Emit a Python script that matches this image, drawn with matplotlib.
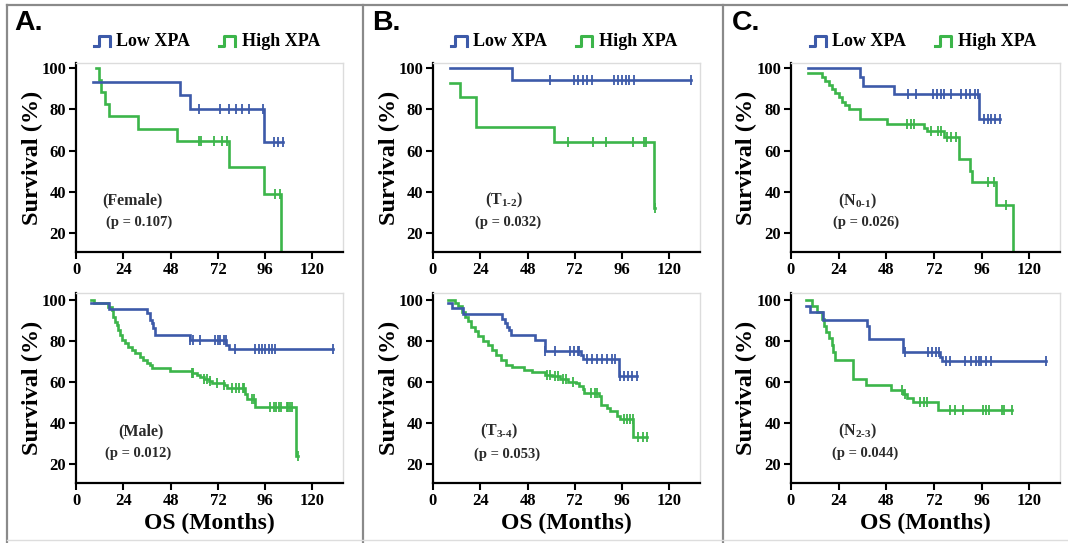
import numpy as np
import matplotlib.pyplot as plt
from matplotlib.lines import Line2D
from matplotlib.legend_handler import HandlerBase

# ---- data: event times (months), survival after each step (%), censor times ----
# A. Female
female_low_t = [8.5, 53.0, 58.0, 95.6]
female_low_s = [93.3, 86.7, 80.0, 64.0]
female_low_c = [62.6, 73.0, 77.6, 81.0, 84.0, 88.0, 95.0, 100.3, 102.5, 105.0]
female_high_t = [10.0, 11.8, 12.7, 14.7, 16.8, 31.2, 51.2, 77.6, 95.2, 104.2]
female_high_s = [100.0, 94.1, 88.2, 82.4, 76.5, 70.6, 64.7, 51.8, 38.8, 0.0]
female_high_c = [62.6, 63.2, 70.0, 74.3, 76.6, 101.0, 103.5]

# A. Male
male_low_t = [7.5, 16.5, 35.9, 37.6, 38.5, 39.3, 40.2, 58.0, 76.3, 77.4]
male_low_s = [98.4, 95.5, 93.5, 90.2, 88.6, 86.2, 82.9, 80.5, 78.0, 76.0]
male_low_c = [58.0, 59.6, 63.0, 70.7, 71.9, 73.3, 75.0, 76.2, 80.8, 91.0, 92.7, 94.4,
              96.1, 97.8, 99.5, 101.2, 130.5]
male_high_t = [7.5, 9.0, 16.4, 18.1, 19.0, 19.8, 20.7, 21.5, 22.4, 23.2, 24.9, 26.6, 28.3,
               30.0, 32.5, 34.2, 35.9, 37.6, 38.5, 47.8, 58.8, 61.3, 63.0, 64.7, 67.3,
               69.0, 74.9, 76.6, 85.6, 86.8, 91.0, 111.8]
male_high_s = [100.0, 98.7, 96.7, 95.1, 91.9, 89.4, 87.8, 85.4, 82.9, 80.5, 78.9, 77.2, 75.6,
               74.0, 72.4, 70.7, 69.1, 68.3, 66.7, 65.5, 64.5, 63.4, 62.3, 61.3, 60.6,
               59.3, 58.3, 57.0, 54.0, 51.5, 48.0, 24.0]
male_high_c = [58.8, 59.6, 64.8, 66.5, 68.1, 71.3, 74.9, 79.4, 81.1, 82.8, 84.5, 85.4, 89.3,
               90.5, 98.6, 100.3, 101.6, 102.8, 104.0, 107.0, 107.8, 108.6, 109.5, 112.6]

# B. T1-2
t12_low_t = [8.8, 40.2]
t12_low_s = [100.0, 94.0]
t12_low_c = [59.2, 71.6, 73.7, 75.9, 78.0, 80.6, 92.0, 93.7, 95.9, 97.9, 99.6, 102.2, 131.0]
t12_high_t = [8.8, 13.9, 21.6, 61.4, 112.4]
t12_high_s = [92.9, 85.7, 71.4, 64.3, 32.1]
t12_high_c = [68.6, 81.0, 87.7, 101.3, 107.3, 108.1, 112.8]

# B. T3-4
t34_low_t = [7.8, 9.5, 15.3, 35.2, 36.5, 37.7, 38.5, 39.4, 51.8, 56.8, 75.0, 75.9, 94.2]
t34_low_s = [98.4, 96.0, 93.2, 90.6, 88.6, 86.7, 85.1, 83.0, 80.5, 75.2, 73.2, 71.3, 63.0]
t34_low_c = [56.8, 61.8, 69.3, 71.8, 73.4, 74.3, 78.4, 80.9, 83.4, 85.9, 88.4, 90.9, 92.6,
             95.0, 97.0, 99.2, 100.8, 103.5]
t34_high_t = [7.5, 11.0, 12.8, 14.5, 16.1, 17.8, 19.4, 21.1, 22.8, 25.3, 27.8, 30.2, 31.9,
              34.4, 36.9, 40.2, 46.0, 50.2, 56.8, 60.2, 64.3, 68.5, 72.6, 74.3, 76.0,
              76.8, 84.3, 85.1, 88.4, 90.0, 93.4, 95.0, 101.7]
t34_high_s = [100.0, 98.4, 96.8, 94.3, 91.9, 89.5, 87.0, 84.6, 82.2, 80.0, 78.0, 75.7, 73.2,
              70.8, 68.4, 67.2, 65.9, 64.6, 63.5, 62.7, 61.4, 60.2, 59.4, 58.1, 56.5,
              54.6, 53.0, 48.9, 47.3, 45.6, 43.2, 41.9, 33.3]
t34_high_c = [57.7, 59.3, 61.8, 63.5, 66.0, 67.6, 71.0, 80.1, 82.1, 83.4, 96.7, 98.4, 100.0,
              101.4, 104.2, 106.7, 108.4]

# C. N0-1
n01_low_t = [8.5, 34.7, 36.4, 51.9, 94.9]
n01_low_s = [100.0, 95.8, 91.4, 87.3, 75.2]
n01_low_c = [58.7, 62.9, 71.3, 73.5, 75.5, 76.9, 80.6, 85.6, 88.1, 90.3, 92.7, 94.0, 97.4,
             99.1, 100.8, 102.8, 105.0]
n01_high_t = [8.5, 15.5, 17.2, 18.9, 20.6, 22.3, 24.0, 25.7, 27.3, 29.0, 35.0, 48.4, 67.0,
              68.7, 77.1, 84.8, 90.3, 91.0, 103.3, 111.7]
n01_high_s = [97.4, 95.8, 93.9, 91.8, 89.7, 87.7, 85.8, 83.7, 82.1, 80.0, 75.1, 72.8, 70.7,
              69.6, 66.5, 55.7, 50.0, 44.8, 33.6, 0.0]
n01_high_c = [58.6, 60.3, 62.0, 70.4, 73.8, 75.4, 78.8, 80.5, 83.0, 99.1, 102.1, 108.4]

# C. N2-3
n23_low_t = [7.7, 9.4, 16.2, 38.1, 39.4, 56.2, 75.2, 76.2]
n23_low_s = [97.1, 94.2, 90.4, 87.4, 80.9, 74.5, 72.4, 70.1]
n23_low_c = [57.3, 69.0, 71.2, 73.2, 74.5, 77.9, 79.9, 87.4, 90.8, 93.3, 94.6, 95.8, 98.3,
             100.8, 128.5]
n23_high_t = [7.7, 10.5, 13.0, 15.5, 16.7, 17.7, 18.9, 20.6, 21.4, 22.2, 31.3, 38.0, 50.5,
              56.5, 58.2, 61.5, 74.0]
n23_high_s = [100.0, 97.1, 93.9, 90.6, 87.4, 84.2, 81.2, 78.0, 74.7, 70.7, 61.5, 58.3, 55.9,
              54.3, 52.3, 50.2, 46.5]
n23_high_c = [55.7, 57.3, 64.8, 66.8, 68.5, 79.9, 82.4, 86.6, 96.6, 98.3, 99.9, 106.3,
              107.5, 111.3]

subgroup_labels = ["(Female)", "(Male)", r"(T$_{1\text{-}2}$)", r"(T$_{3\text{-}4}$)",
                   r"(N$_{0\text{-}1}$)", r"(N$_{2\text{-}3}$)"]
p_labels = ["(p = 0.107)", "(p = 0.012)", "(p = 0.032)", "(p = 0.053)",
            "(p = 0.026)", "(p = 0.044)"]
panel_letters = ["A.", "B.", "C."]
group_names = ["Low XPA", "High XPA"]
x_ticks = [0, 24, 48, 72, 96, 120]
y_ticks = [20, 40, 60, 80, 100]

BLUE = "#3d5aa9"
GREEN = "#3cb54a"

plt.rcParams['font.family'] = ['Liberation Serif', 'DejaVu Serif']
plt.rcParams['font.weight'] = 'bold'
plt.rcParams['mathtext.fontset'] = 'custom'
plt.rcParams['mathtext.rm'] = 'Liberation Serif:bold'
plt.rcParams['mathtext.it'] = 'Liberation Serif:bold:italic'
plt.rcParams['mathtext.bf'] = 'Liberation Serif:bold'


class StepHandler(HandlerBase):
  def create_artists(self, legend, orig_handle, xdescent, ydescent, width, height, fontsize, trans):
    xs = np.array([0.0, 0.3, 0.3, 1.0, 1.0]) * width - xdescent
    ys = np.array([0.1, 0.1, 0.8, 0.8, 0.1]) * height - ydescent
    return [Line2D(xs, ys, color=orig_handle.get_color(), lw=2.2, transform=trans)]


def draw_curve(ax, t, s, c, color):
  t = np.asarray(t)
  s = np.asarray(s)
  c = np.asarray(c)
  end = max(t[-1], c.max())
  xs = np.append(t, end)
  ys = np.append(s, s[-1])
  line, = ax.step(xs, ys, where='post', color=color, lw=1.9, solid_joinstyle='miter')
  idx = np.searchsorted(t, c, side='right') - 1
  ax.plot(c, s[idx], linestyle='none', marker='|', markersize=7, mew=1.3, color=color)
  return line


def style_axes(ax, bottom_row):
  ax.set_xlim(0, 135.5)
  if bottom_row:
    ax.set_ylim(10.7, 103.4)
  else:
    ax.set_ylim(10.8, 102.4)
  ax.set_xticks(x_ticks)
  ax.set_yticks(y_ticks)
  for side in ['left', 'bottom']:
    ax.spines[side].set_linewidth(1.6)
    ax.spines[side].set_color('black')
  for side in ['top', 'right']:
    ax.spines[side].set_linewidth(1.0)
    ax.spines[side].set_color('#dcdcdc')
  ax.tick_params(axis='both', which='major', direction='out', length=5, width=1.5,
                 labelsize=12, pad=2, top=False, right=False)
  ax.set_ylabel("Survival (%)", fontsize=17.5, fontweight='bold')
  ax.yaxis.set_label_coords(-0.125, 0.5)
  if bottom_row:
    ax.set_xlabel("OS (Months)", fontsize=17, fontweight='bold')
    ax.xaxis.set_label_coords(0.5, -0.155)


def main():
  curves = [
    (female_low_t, female_low_s, female_low_c, female_high_t, female_high_s, female_high_c),
    (male_low_t, male_low_s, male_low_c, male_high_t, male_high_s, male_high_c),
    (t12_low_t, t12_low_s, t12_low_c, t12_high_t, t12_high_s, t12_high_c),
    (t34_low_t, t34_low_s, t34_low_c, t34_high_t, t34_high_s, t34_high_c),
    (n01_low_t, n01_low_s, n01_low_c, n01_high_t, n01_high_s, n01_high_c),
    (n23_low_t, n23_low_s, n23_low_c, n23_high_t, n23_high_s, n23_high_c),
  ]
  lefts = [0.0712, 0.4054, 0.7406]
  widths = [0.25, 0.25, 0.252]
  rows_y = [(0.5359, 0.348), (0.1105, 0.35)]
  label_pos = [((0.213, 0.275), (0.236, 0.159)), ((0.242, 0.27), (0.232, 0.158)),
               ((0.266, 0.275), (0.281, 0.159)), ((0.247, 0.27), (0.277, 0.153)),
               ((0.247, 0.266), (0.279, 0.16)), ((0.247, 0.27), (0.275, 0.156))]

  fig = plt.figure(figsize=(10.68, 5.43), dpi=100)

  index = 0
  for col in range(3):
    for row in range(2):
      y0, h = rows_y[row]
      ax = fig.add_axes([lefts[col], y0, widths[col], h])
      lt, ls, lc, ht, hs, hc = curves[index]
      high_line = draw_curve(ax, ht, hs, hc, GREEN)
      low_line = draw_curve(ax, lt, ls, lc, BLUE)
      style_axes(ax, row == 1)
      (lx, ly), (px, py) = label_pos[index]
      ax.text(lx, ly, subgroup_labels[index], transform=ax.transAxes, ha='center', va='center',
              fontsize=11.5, color='#2a2a2a')
      ax.text(px, py, p_labels[index], transform=ax.transAxes, ha='center', va='center',
              fontsize=10.5, color='#2a2a2a')
      if row == 0:
        ax.legend([low_line, high_line], group_names, loc='center', bbox_to_anchor=(0.49, 1.112),
                  ncol=2, frameon=False, fontsize=13, handlelength=0.9, handleheight=0.8,
                  handletextpad=0.35, columnspacing=1.6, borderaxespad=0,
                  handler_map={Line2D: StepHandler()})
      index += 1

  for col, letter in enumerate(panel_letters):
    x = [14, 372, 732][col] / 1068
    fig.text(x, 1 - 10 / 543, letter, fontsize=20.5, fontweight='bold',
             family=['Liberation Sans', 'DejaVu Sans'], va='top', ha='left')

  # panel frame and separators
  frame = dict(color='#8a8a8a', lw=1.6, transform=fig.transFigure)
  fig.add_artist(Line2D([7 / 1068, 7 / 1068], [0, 1 - 5 / 543], **frame))
  fig.add_artist(Line2D([7 / 1068, 1], [1 - 5 / 543, 1 - 5 / 543], **frame))
  fig.add_artist(Line2D([363 / 1068, 363 / 1068], [0, 1 - 5 / 543], **frame))
  fig.add_artist(Line2D([723 / 1068, 723 / 1068], [0, 1 - 5 / 543], **frame))
  fig.add_artist(Line2D([7 / 1068, 1], [3 / 543, 3 / 543], color='#dddddd', lw=1.0,
                        transform=fig.transFigure))

  fig.savefig("out.png", dpi=100)


if __name__ == '__main__':
  main()
